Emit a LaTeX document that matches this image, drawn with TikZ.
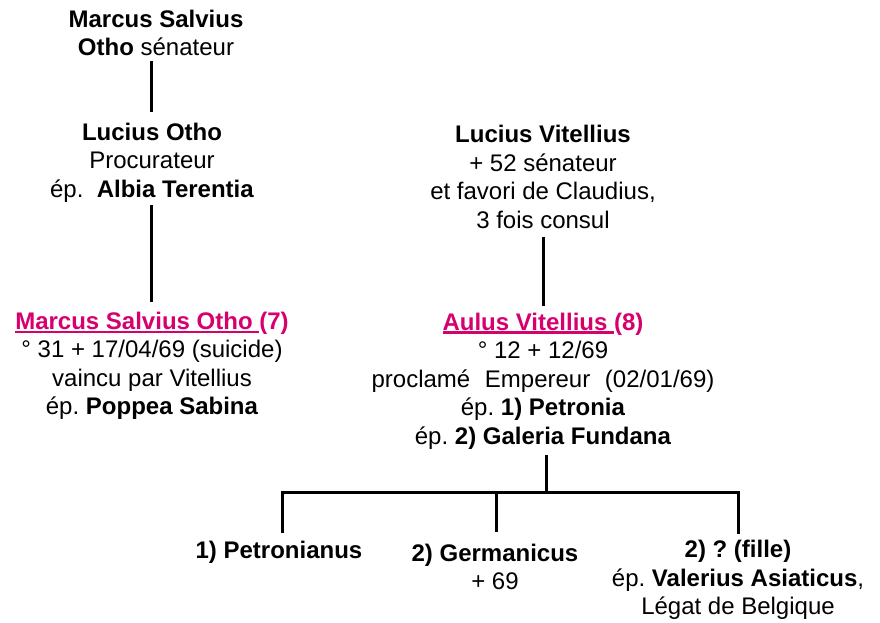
\documentclass[tikz,border=0pt]{standalone}
\usepackage{fontspec}
\setmainfont{Liberation Sans}
\usetikzlibrary{calc}
\frenchspacing
\definecolor{empink}{RGB}{214,0,111}
\newcommand\ulpink[1]{\setbox0\hbox{#1}\rlap{\rule[-3.5pt]{\wd0}{2.4pt}}\box0}
\tikzset{
  person/.style={align=center, inner sep=0pt, text=black,
    font=\fontsize{24}{28.5}\selectfont},
  link/.style={line width=3pt, draw=black},
}
\begin{document}
\begin{tikzpicture}[x=1pt,y=-1pt]
\useasboundingbox (0,0) rectangle (880,623);
\node[person] (ms) at (156,33) {\textbf{Marcus Salvius}\\\textbf{Otho} sénateur};
\node[person] (lo) at (152,162.5) {\textbf{Lucius Otho}\\Procurateur\\ép.\ \ \textbf{Albia Terentia}};
\node[person] (mso) at (152,366) {{\color{empink}\textbf{\ulpink{Marcus Salvius Otho\ }(7)}}\\° 31 + 17/04/69 (suicide)\\vaincu par Vitellius\\ép. \textbf{Poppea Sabina}};
\node[person] (lv) at (543,177) {\textbf{Lucius Vitellius}\\+ 52 sénateur\\et favori de Claudius,\\3 fois consul};
\node[person] (av) at (543,381) {{\color{empink}\textbf{\ulpink{Aulus Vitellius\ }(8)}}\\° 12 + 12/69\\proclamé\hspace{8pt} Empereur\hspace{8pt} (02/01/69)\\ép. \textbf{1) Petronia}\\ép. \textbf{2) Galeria Fundana}};
\node[person] (c1) at (279,552) {\textbf{1) Petronianus}};
\node[person] (c2) at (495,567) {\textbf{2) Germanicus}\\+ 69};
\node[person] (c3) at (738,580) {\textbf{2) ? (fille)}\\ép. \textbf{Valerius Asiaticus},\\Légat de Belgique};
\coordinate (bus) at (546,492);
\draw[link] ($(ms.south -| lo.north)+(-1,5)$) -- ($(lo.north)+(-1,-11)$);
\draw[link] ($(lo.south)+(-1,3)$) -- ($(mso.north)+(-1,-10)$);
\draw[link] ($(lv.south)+(0,8)$) -- ($(av.north)+(0,-7)$);
\draw[link] ($(av.south -| bus)+(0,6)$) -- (bus);
\draw[link, line cap=rect] ($(c1.north)+(3,-9)$) |- (bus) -| ($(c3.north)+(0,-8)$);
\draw[link] ($(c2.north)+(1,-12)$) -- ($(c2.north |- bus)+(1,0)$);
\end{tikzpicture}
\end{document}
